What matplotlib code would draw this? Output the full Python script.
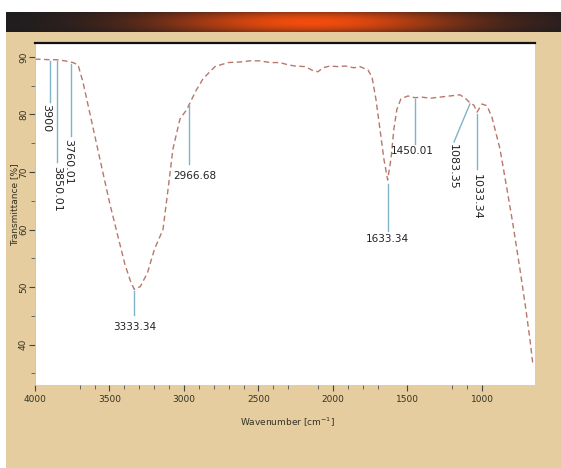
import numpy as np
import matplotlib
matplotlib.use("Agg")
import matplotlib.pyplot as plt
from matplotlib.patches import Rectangle

# FTIR spectrum, values
wavenumber = [4000, 3899, 3852, 3799, 3745, 3711, 3678, 3631, 3564, 3497, 3450, 3396,
              3356, 3333, 3293, 3245, 3198, 3141, 3107, 3074, 3027, 2980, 2960, 2920,
              2872, 2792, 2705, 2624, 2560, 2490, 2420, 2356, 2300, 2255, 2188, 2134,
              2101, 2067, 2020, 1970, 1919, 1860, 1819, 1765, 1738, 1712, 1685, 1658,
              1633, 1611, 1591, 1571, 1544, 1497, 1450, 1403, 1349, 1282, 1215, 1148,
              1107, 1081, 1054, 1033, 1000, 966, 933, 879, 832, 792, 745, 705, 678, 658]
transmittance = [89.6, 89.5, 89.5, 89.3, 89.0, 88.6, 85.6, 80.1, 72.2, 64.4, 59.5, 53.9,
                 50.8, 49.6, 50.1, 52.5, 56.6, 60.0, 67.0, 74.0, 79.2, 80.9, 82.0, 84.1,
                 86.2, 88.3, 89.0, 89.1, 89.3, 89.3, 89.0, 89.0, 88.6, 88.4, 88.3, 87.6,
                 87.4, 88.1, 88.4, 88.3, 88.4, 88.1, 88.3, 87.7, 86.5, 82.7, 77.5, 72.2,
                 68.6, 72.2, 77.5, 80.9, 82.7, 83.2, 82.9, 83.0, 82.8, 83.0, 83.2, 83.4,
                 82.7, 82.0, 81.6, 80.4, 81.8, 81.5, 79.5, 74.0, 67.0, 60.9, 53.1, 46.1,
                 40.9, 36.5]

# labelled peaks
peak_wn = [3900, 3850.01, 3760.01, 3333.34, 2966.68, 1633.34, 1450.01, 1083.35, 1033.34]
peak_labels = ["3900", "3850.01", "3760.01", "3333.34", "2966.68", "1633.34",
               "1450.01", "1083.35", "1033.34"]

x_ticks = [4000, 3500, 3000, 2500, 2000, 1500, 1000]
y_ticks = [90, 80, 70, 60, 50, 40]

BEIGE = "#e6cda0"
fig = plt.figure(figsize=(5.61, 4.68), dpi=100)
fig.patch.set_facecolor("white")
fig.add_artist(Rectangle((6 / 561, 0), 1, 436 / 468, transform=fig.transFigure,
                         facecolor=BEIGE, edgecolor="none", zorder=0))

# dark bar with orange glow on top
bar = fig.add_axes([6 / 561, 1 - 32 / 468, 1 - 6 / 561, 20 / 468])
gx = np.linspace(0, 1, 400)
gy = np.linspace(-1, 1, 20)
glow = np.exp(-((gx - 0.55) / 0.28) ** 2)[None, :] * (1 - 0.4 * gy[:, None] ** 2)
dark = np.array([0.11, 0.11, 0.12])
hot = np.array([0.95, 0.30, 0.05])
img = dark[None, None, :] + glow[:, :, None] * (hot - dark)[None, None, :]
bar.imshow(img, aspect="auto", extent=[0, 1, 0, 1])
bar.set_axis_off()

ax = fig.add_axes([35 / 561, 1 - 385 / 468, 500 / 561, 342 / 468])
ax.set_facecolor("white")
ax.plot(wavenumber, transmittance, color="#b8776a", lw=1.0, ls=(0, (4, 2.5)))
ax.set_xlim(4000, 644)
ax.set_ylim(33.0, 92.4)

# annotation lines: (x_line_end, y_line_start, y_line_end, text_x, text_y, rotation)
ann = [
    (3900, 89.2, 82.2, 3925, 81.8, 270),
    (3850.01, 89.2, 71.7, 3850, 71.0, 270),
    (3760.01, 88.8, 76.2, 3775, 75.7, 270),
    (3333.34, 49.3, 45.2, 3333, 43.1, 0),
    (2966.68, 81.8, 71.4, 2926, 69.3, 0),
    (1633.34, 67.9, 59.7, 1633, 58.3, 0),
    (1450.01, 82.7, 74.8, 1465, 73.6, 0),
    (1188, 81.8, 75.2, 1195, 74.8, 270),
    (1033.34, 80.1, 70.5, 1033, 69.6, 270),
]
for wn, lab, (xe, y0, y1, tx, ty, rot) in zip(peak_wn, peak_labels, ann):
    ax.plot([wn if lab != "1083.35" else 1081, xe], [y0, y1], color="#7fb3c9", lw=1.0)
    if rot == 0:
        ax.text(tx, ty, lab, ha="center", va="center", fontsize=7.5,
                family=["Liberation Sans Narrow", "DejaVu Sans"], color="#222222")
    else:
        ax.text(tx, ty, lab, ha="center", va="top", rotation=270, fontsize=8,
                color="#222222")

for s in ["right", "bottom"]:
    ax.spines[s].set_visible(False)
ax.spines["top"].set_linewidth(1.6)
ax.spines["top"].set_color("#111111")
ax.spines["left"].set_color("#bbbbbb")
ax.spines["left"].set_linewidth(0.6)

ax.set_xticks(x_ticks)
ax.set_xticklabels([str(v) for v in x_ticks])
ax.set_xticks([3700, 3600, 3400, 3300, 3200, 3100, 2900, 2800, 2700, 2600, 2400, 2300,
               2100, 1900, 1800, 1700, 1200, 1100], minor=True)
ax.set_yticks(y_ticks)
ax.set_yticklabels([str(v) for v in y_ticks], rotation=90, va="center")
ax.set_yticks([85, 75, 65, 55, 45, 35], minor=True)
ax.tick_params(axis="both", which="major", length=4, width=0.8, color="#444444",
               labelsize=6.5, labelcolor="#333322", pad=1)
ax.tick_params(axis="both", which="minor", length=3, width=0.6, color="#555555")
ax.tick_params(axis="x", which="both", pad=3)

fig.text(287 / 561, 1 - 422 / 468, "Wavenumber [cm$^{-1}$]", ha="center", va="center",
         fontsize=6.5, color="#333322")
fig.text(15 / 561, 1 - 205 / 468, "Transmittance [%]", ha="center", va="center",
         rotation=90, fontsize=6.5, color="#333322")

fig.savefig("out.png", dpi=100)
